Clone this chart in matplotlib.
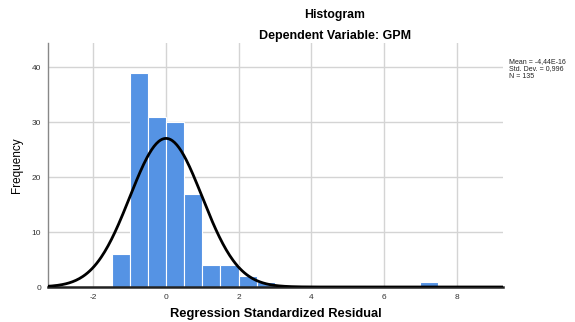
import numpy as np
import matplotlib
matplotlib.use("Agg")
import matplotlib.pyplot as plt

# histogram of standardized residuals (bin width 0.5)
bin_lefts = [-1.5, -1.0, -0.5, 0.0, 0.5, 1.0, 1.5, 2.0, 2.5, 7.0]
counts = [6, 39, 31, 30, 17, 4, 4, 2, 1, 1]
bin_width = 0.5
mean = -4.44e-16
std = 0.996
n = 135

x_ticks = [-2, 0, 2, 4, 6, 8]
y_ticks = [0, 10, 20, 30, 40]

plt.rcParams['font.family'] = ['Liberation Sans', 'DejaVu Sans']
plt.rcParams['axes.unicode_minus'] = False

fig = plt.figure(figsize=(5.75, 3.22), dpi=100)
ax = fig.add_axes([48 / 575, 1 - 287 / 322, 455 / 575, 244 / 322])

ax.bar(bin_lefts, counts, width=bin_width, align='edge', color='#5593e4',
       edgecolor='white', linewidth=0.8, zorder=2)

xs = np.linspace(-3.3, 9.3, 400)
ys = n * bin_width / (std * np.sqrt(2 * np.pi)) * np.exp(-0.5 * ((xs - mean) / std) ** 2)
ax.plot(xs, ys, color='black', linewidth=2, zorder=3)

ax.set_xlim(-3.25, 9.28)
ax.set_ylim(0, 44.4)
ax.set_xticks(x_ticks)
ax.set_yticks(y_ticks)
ax.grid(True, color='#d4d4d4', linewidth=1, zorder=0)
ax.set_axisbelow(True)
ax.tick_params(length=0, labelsize=6, colors='#333333', pad=5)

for s in ['top', 'right']:
    ax.spines[s].set_visible(False)
ax.spines['left'].set_color('#888888')
ax.spines['left'].set_linewidth(1)
ax.spines['bottom'].set_color('#222222')
ax.spines['bottom'].set_linewidth(1.8)

ax.set_xlabel('Regression Standardized Residual', fontsize=9.3, fontweight='bold', labelpad=5)
ax.set_ylabel('Frequency', fontsize=8.5, labelpad=6)

fig.text(335 / 575, 1 - 15 / 322, 'Histogram', ha='center', va='center',
         fontsize=8.8, fontweight='bold')
fig.text(335 / 575, 1 - 36 / 322, 'Dependent Variable: GPM', ha='center', va='center',
         fontsize=9, fontweight='bold')
fig.text(509 / 575, 1 - 58 / 322,
         'Mean = -4,44E-16\nStd. Dev. = 0,996\nN = 135',
         ha='left', va='top', fontsize=5, linespacing=1.1, color='#222222')

fig.savefig('out.png', dpi=100)
